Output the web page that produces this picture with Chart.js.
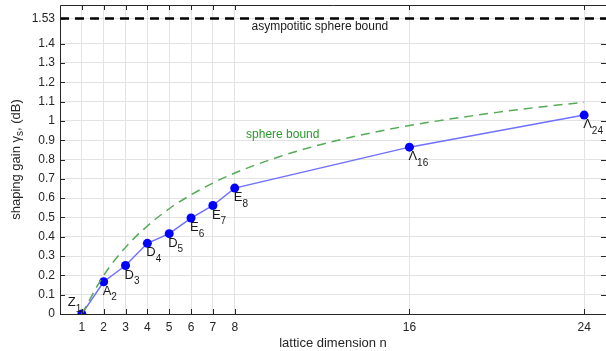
<!DOCTYPE html>
<html>
<head>
<meta charset="utf-8">
<script src="https://cdn.jsdelivr.net/npm/chart.js@4"></script>
<style>
  html, body { margin: 0; padding: 0; background: #fff; }
  #wrap { width: 606px; height: 351px; }
</style>
</head>
<body>
<div id="wrap"><canvas id="chart"></canvas></div>
<script>
// lattice points (dimension, shaping gain in dB)
const latticeDims = [1, 2, 3, 4, 5, 6, 7, 8, 16, 24];
const latticeGain = [0, 0.167, 0.251, 0.366, 0.416, 0.497, 0.562, 0.652, 0.864, 1.030];
const latticeNames = ['Z', 'A', 'D', 'D', 'D', 'E', 'E', 'E', 'Λ', 'Λ'];
const latticeSubs = ['1', '2', '3', '4', '5', '6', '7', '8', '16', '24'];

// sphere bound curve
const sphereDims = [1, 2, 3, 4, 5, 6, 7, 8, 10, 12, 14, 16, 18, 20, 22, 24];
const sphereGain = [0, 0.200, 0.345, 0.456, 0.545, 0.617, 0.678, 0.730, 0.813, 0.879, 0.932, 0.976, 1.012, 1.044, 1.072, 1.096];

const asymptote = 1.53;
const xTicks = [1, 2, 3, 4, 5, 6, 7, 8, 16, 24];
const yTicks = [0, 0.1, 0.2, 0.3, 0.4, 0.5, 0.6, 0.7, 0.8, 0.9, 1, 1.1, 1.2, 1.3, 1.4, 1.53];

const FONT = '"Liberation Sans", Arial, sans-serif';
const AXIS = '#262626';

const extras = {
    id: 'extras',
    afterDatasetsDraw(chart) {
        const ctx = chart.ctx;
        const xs = chart.scales.x, ys = chart.scales.y;
        const a = chart.chartArea;
        ctx.save();

        // lattice labels with subscripts
        ctx.fillStyle = '#1a1a1a';
        ctx.textBaseline = 'top';
        ctx.textAlign = 'left';
        latticeDims.forEach((d, i) => {
            let px = xs.getPixelForValue(d);
            let py = ys.getPixelForValue(latticeGain[i]);
            let lx = px - 1, ly = py + 3;
            if (i === 0) { lx = px - 14; ly = py - 18; }
            ctx.font = '13px ' + FONT;
            ctx.fillText(latticeNames[i], lx, ly);
            const w = ctx.measureText(latticeNames[i]).width;
            ctx.font = '10px ' + FONT;
            ctx.fillText(latticeSubs[i], lx + w, ly + 8);
        });

        // text labels
        ctx.font = '12px ' + FONT;
        ctx.textAlign = 'center';
        ctx.textBaseline = 'middle';
        ctx.fillStyle = '#2a9a2a';
        ctx.fillText('sphere bound', xs.getPixelForValue(10.2), ys.getPixelForValue(0.93));
        ctx.fillStyle = '#1a1a1a';
        ctx.fillText('asympotitic sphere bound', xs.getPixelForValue(11.9), ys.getPixelForValue(1.488));

        // box and inward ticks
        ctx.strokeStyle = AXIS;
        ctx.lineWidth = 1;
        ctx.beginPath();
        ctx.moveTo(a.left + 0.5, a.bottom + 0.5);
        ctx.lineTo(a.left + 0.5, a.top + 0.5);
        ctx.lineTo(a.right, a.top + 0.5);
        ctx.moveTo(a.left, a.bottom + 0.5);
        ctx.lineTo(a.right, a.bottom + 0.5);
        xTicks.forEach(t => {
            const px = Math.round(xs.getPixelForValue(t)) + 0.5;
            ctx.moveTo(px, a.bottom); ctx.lineTo(px, a.bottom - 5);
            ctx.moveTo(px, a.top); ctx.lineTo(px, a.top + 5);
        });
        yTicks.forEach(t => {
            const py = Math.round(ys.getPixelForValue(t)) + 0.5;
            ctx.moveTo(a.left, py); ctx.lineTo(a.left + 5, py);
            ctx.moveTo(a.right, py); ctx.lineTo(a.right - 5, py);
        });
        ctx.stroke();

        // y title with subscript
        ctx.fillStyle = '#262626';
        ctx.translate(16, (a.top + a.bottom) / 2);
        ctx.rotate(-Math.PI / 2);
        ctx.textBaseline = 'alphabetic';
        ctx.textAlign = 'left';
        const p1 = 'shaping gain γ', p2 = 's', p3 = ', (dB)';
        ctx.font = '13px ' + FONT;
        const w1 = ctx.measureText(p1).width, w3 = ctx.measureText(p3).width;
        ctx.font = '10px ' + FONT;
        const w2 = ctx.measureText(p2).width;
        let x0 = -(w1 + w2 + w3) / 2;
        ctx.font = '13px ' + FONT;
        ctx.fillText(p1, x0, 4);
        ctx.font = '10px ' + FONT;
        ctx.fillText(p2, x0 + w1, 7);
        ctx.font = '13px ' + FONT;
        ctx.fillText(p3, x0 + w1 + w2, 4);
        ctx.restore();
    }
};

new Chart(document.getElementById('chart'), {
    type: 'scatter',
    data: {
        datasets: [
            {
                data: [{ x: 0, y: asymptote }, { x: 25, y: asymptote }],
                showLine: true,
                borderColor: '#000',
                borderWidth: 2.5,
                borderDash: [9, 6],
                pointRadius: 0
            },
            {
                data: sphereDims.map((d, i) => ({ x: d, y: sphereGain[i] })),
                showLine: true,
                borderColor: '#55aa55',
                borderWidth: 1.5,
                borderDash: [9, 6],
                pointRadius: 0,
                tension: 0.4,
                cubicInterpolationMode: 'monotone'
            },
            {
                data: latticeDims.map((d, i) => ({ x: d, y: latticeGain[i] })),
                showLine: true,
                borderColor: '#7070ff',
                borderWidth: 1.5,
                pointRadius: 4.5,
                pointBackgroundColor: '#0000ff',
                pointBorderColor: '#0000ff',
                pointBorderWidth: 0
            }
        ]
    },
    options: {
        responsive: true,
        maintainAspectRatio: false,
        animation: false,
        layout: { autoPadding: false, padding: { top: 5, right: 0, left: 0, bottom: 0 } },
        plugins: { legend: { display: false }, tooltip: { enabled: false } },
        scales: {
            x: {
                type: 'linear',
                min: 0,
                max: 25,
                afterBuildTicks: s => { s.ticks = xTicks.map(v => ({ value: v })); },
                afterFit: s => { s.height = 37; s.paddingLeft = 0; s.paddingRight = 0; },
                grid: { color: '#e3e3e3', drawTicks: false },
                border: { display: false },
                ticks: { color: '#262626', font: { family: FONT, size: 12 }, padding: 6, maxRotation: 0 },
                title: { display: true, text: 'lattice dimension n', color: '#262626', font: { family: FONT, size: 13 }, padding: { top: 2, bottom: 0 } }
            },
            y: {
                min: 0,
                max: 1.6,
                afterBuildTicks: s => { s.ticks = yTicks.map(v => ({ value: v })); },
                afterFit: s => { s.width = 60; s.paddingTop = 0; s.paddingBottom = 0; },
                grid: { color: '#e3e3e3', drawTicks: false },
                border: { display: false },
                ticks: { color: '#262626', font: { family: FONT, size: 12 }, padding: 5, callback: v => String(v) }
            }
        }
    },
    plugins: [extras]
});
</script>
</body>
</html>
